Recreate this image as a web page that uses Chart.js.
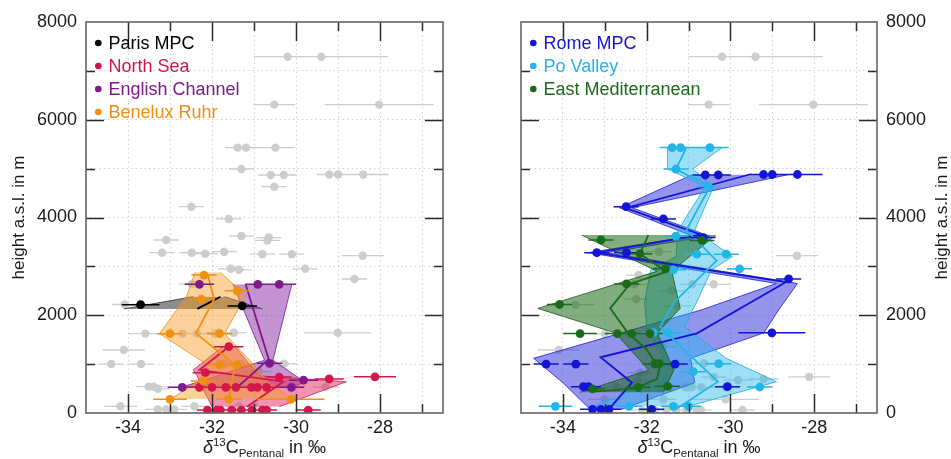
<!DOCTYPE html>
<html><head><meta charset="utf-8">
<script src="https://cdn.jsdelivr.net/npm/chart.js@4.4.1/dist/chart.umd.min.js"></script>
<style>
html,body{margin:0;padding:0;background:#fff;}
#wrap{position:relative;width:951px;height:459px;overflow:hidden;background:#fff;}
#cL{position:absolute;left:0;top:0;width:476px;height:459px;}
#cR{position:absolute;left:476px;top:0;width:475px;height:459px;}
</style></head><body>
<div id="wrap"><canvas id="cL" width="476" height="459"></canvas><canvas id="cR" width="475" height="459"></canvas></div>
<script>
// ---------------- DATA ----------------
const xTickLabels = [-34, -32, -30, -28];
const yTickLabels = [0, 2000, 4000, 6000, 8000];
const leftNames = ['Paris MPC', 'North Sea', 'English Channel', 'Benelux Ruhr'];
const rightNames = ['Rome MPC', 'Po Valley', 'East Mediterranean'];

// points: [delta13C (permil), height (m), error]
const parisPts = [[-33.70, 2216, 0.45], [-31.28, 2190, 0.35]];
const parisMean = [[-32.35, 2130], [-31.80, 2380]];
const parisBand = [[2130, -34.10, -30.80], [2380, -32.45, -31.70]]; // [height, low, high]

const northSeaPts = [
  [-32.11, 60, 0.25], [-31.88, 60, 0.25], [-31.80, 60, 0.25], [-31.53, 60, 0.25], [-31.30, 60, 0.25],
  [-31.05, 60, 0.25], [-30.80, 60, 0.25], [-30.70, 60, 0.25], [-29.71, 60, 0.3],
  [-32.30, 526, 0.3], [-32.00, 526, 0.3], [-31.67, 526, 0.3], [-31.43, 526, 0.3], [-31.06, 526, 0.3],
  [-30.92, 526, 0.3], [-30.70, 526, 0.3],
  [-30.40, 735, 0.3], [-29.21, 696, 0.35], [-28.12, 740, 0.5], [-32.16, 825, 0.3], [-31.60, 1357, 0.35]
];
const northSeaMean = [[-31.17, 130], [-30.30, 640], [-32.30, 880], [-31.60, 1357]];
const northSeaBand = [[130, -32.00, -30.40], [640, -32.30, -28.80], [760, -32.35, -30.85], [880, -32.45, -31.00], [1357, -31.75, -31.45]];

const channelPts = [[-32.30, 2633, 0.35], [-30.91, 2633, 0.3], [-30.40, 2633, 0.4], [-30.63, 1017, 0.3],
  [-29.82, 672, 0.35], [-32.71, 526, 0.35], [-30.11, 526, 0.3]];
const channelMean = [[-31.40, 526], [-31.25, 640], [-30.65, 1100], [-31.20, 2633]];
const channelBand = [[526, -32.75, -30.05], [640, -32.30, -29.80], [1080, -30.75, -30.55], [2633, -31.50, -30.10]];

const beneluxPts = [[-32.19, 2823, 0.3], [-31.40, 2500, 0.3], [-32.25, 2330, 0.3], [-33.00, 1623, 0.3],
  [-31.82, 1623, 0.3], [-31.82, 982, 0.3], [-31.41, 982, 0.3], [-32.21, 655, 0.3], [-33.00, 280, 0.4],
  [-31.60, 280, 0.3], [-30.12, 280, 0.8]];
const beneluxMean = [[-31.62, 200], [-31.45, 982], [-32.38, 1630], [-31.95, 2330], [-32.10, 2823]];
const beneluxBand = [[280, -33.00, -30.10], [655, -32.30, -30.70], [982, -32.10, -31.00], [1623, -33.25, -31.70], [2400, -32.60, -31.20], [2880, -32.40, -31.80]];

const romePts = [[-30.60, 4870, 0.3], [-30.29, 4870, 0.3], [-29.21, 4880, 0.3], [-29.00, 4880, 0.3],
  [-28.40, 4880, 0.6], [-32.49, 4221, 0.3], [-31.60, 3970, 0.3], [-30.65, 3590, 0.3], [-33.19, 3280, 0.3],
  [-32.48, 3280, 0.3], [-28.61, 2742, 0.3], [-29.01, 1640, 0.8], [-34.40, 1002, 0.3], [-33.69, 1002, 0.3],
  [-31.32, 1002, 0.3], [-33.51, 539, 0.3], [-33.39, 539, 0.3], [-30.07, 539, 0.3], [-33.29, 75, 0.3],
  [-33.09, 75, 0.3], [-32.90, 75, 0.3], [-31.88, 75, 0.3]];
const romeMean = [[-32.95, 30], [-32.35, 620], [-33.10, 1140], [-30.80, 1630], [-28.67, 2680], [-33.20, 3280],
  [-30.70, 3650], [-32.50, 4190], [-29.50, 4890]];
const romeBand = [[75, -33.35, -32.60], [620, -34.00, -30.85], [1119, -34.70, -30.95], [1640, -32.60, -29.20],
  [2107, -30.70, -28.85], [2650, -28.90, -28.40], [3280, -33.40, -32.95], [3620, -30.90, -30.50],
  [4200, -32.65, -32.35], [4880, -30.90, -28.60]];

const poPts = [[-31.39, 5430, 0.3], [-31.19, 5430, 0.3], [-30.49, 5430, 0.45], [-31.30, 4992, 0.3],
  [-30.52, 4630, 0.3], [-31.30, 3620, 0.3], [-30.80, 3250, 0.3], [-30.10, 3250, 0.3], [-31.36, 2930, 0.3],
  [-29.78, 2950, 0.3], [-31.84, 1643, 0.3], [-31.48, 1643, 0.3], [-30.28, 1010, 0.3], [-30.89, 845, 0.3],
  [-29.30, 532, 0.3], [-34.18, 137, 0.4], [-32.42, 137, 0.3], [-31.36, 137, 0.3], [-31.00, 137, 0.3]];
const poMean = [[-31.33, 61], [-30.30, 640], [-30.89, 1119], [-31.68, 1766], [-31.33, 2277], [-30.33, 3116],
  [-31.05, 3744], [-30.49, 4630], [-31.30, 4990], [-31.05, 5430]];
const poBand = [[137, -33.30, -31.00], [640, -31.80, -28.90], [1119, -31.60, -30.10], [1766, -32.00, -31.10],
  [2277, -32.05, -30.80], [2930, -31.90, -30.45], [3200, -31.30, -29.95], [3744, -31.25, -30.85],
  [4630, -30.60, -30.40], [4992, -31.50, -30.90], [5430, -31.50, -30.20]];

const eastMedPts = [[-33.09, 3540, 0.3], [-30.68, 3530, 0.3], [-32.16, 3260, 0.3], [-31.55, 2950, 0.3],
  [-32.48, 2640, 0.3], [-34.08, 2220, 0.3], [-33.59, 1625, 0.4], [-32.70, 1625, 0.3], [-32.36, 1625, 0.3],
  [-31.92, 1625, 0.3], [-31.80, 1010, 0.3], [-31.70, 1010, 0.3], [-33.29, 495, 0.3], [-32.20, 526, 0.3],
  [-31.50, 545, 0.3]];
const eastMedMean = [[-33.30, 436], [-32.30, 500], [-31.75, 700], [-31.70, 900], [-32.00, 1300], [-32.45, 1640],
  [-32.87, 2142], [-32.40, 2640], [-31.52, 2891], [-32.16, 3253], [-31.96, 3642]];
const eastMedBand = [[420, -33.60, -31.60], [880, -31.95, -31.35], [1640, -32.75, -31.75], [2140, -34.60, -31.20],
  [2900, -31.75, -31.40], [3640, -33.55, -30.35]];

// samples not assigned to any source region (grey in both panels)
const otherPts = [[-30.20, 7290, 0.8], [-29.40, 7290, 1.6], [-30.52, 6310, 0.5], [-28.02, 6310, 1.3],
  [-28.41, 3218, 0.5], [-34.10, 1289, 0.5], [-31.71, 3300, 0.3]];

// ---------------- STYLE ----------------
const FF = "'Liberation Sans', Arial, sans-serif";
Chart.defaults.font.family = FF;
Chart.defaults.color = '#1a1a1a';
const GREY = '#cdcdcd';
const ST = {
  paris:   {c: '#000000', f: 'rgba(50,50,50,0.55)',   e: 'rgba(40,40,40,0.8)'},
  ns:      {c: '#d5164a', f: 'rgba(225,40,95,0.5)',   e: 'rgba(210,30,80,0.8)'},
  ec:      {c: '#7e1a8a', f: 'rgba(135,40,165,0.5)',  e: 'rgba(120,30,140,0.8)'},
  ben:     {c: '#ef900f', f: 'rgba(247,155,35,0.45)', e: 'rgba(240,145,20,0.8)'},
  rome:    {c: '#1414d4', f: 'rgba(60,60,222,0.55)',  e: 'rgba(30,30,200,0.8)'},
  po:      {c: '#22b5e8', f: 'rgba(40,185,235,0.45)', e: 'rgba(30,170,225,0.8)'},
  em:      {c: '#1b6a1b', f: 'rgba(25,105,25,0.55)',  e: 'rgba(20,90,20,0.8)'}
};

// ---------------- BUILDERS ----------------
const xy = p => ({x: p[0], y: p[1]});
function errData(pts) {
  const out = [];
  pts.forEach(p => { out.push({x: p[0] - p[2], y: p[1]}, {x: p[0] + p[2], y: p[1]}, {x: null, y: null}); });
  return out;
}
function greyDatasets(groups) {
  const all = [].concat(...groups);
  return [
    {data: errData(all), borderColor: GREY, borderWidth: 1.3, pointRadius: 0, spanGaps: false, fill: false, order: 100},
    {data: all.map(xy), showLine: false, pointRadius: 4.2, pointBackgroundColor: GREY, pointBorderWidth: 0, order: 99}
  ];
}
function bandDatasets(band, st) {
  return [
    {indexAxis: 'y', data: band.map(b => ({x: b[1], y: b[0]})), borderColor: st.e, borderWidth: 1, pointRadius: 0, fill: false, order: 50},
    {indexAxis: 'y', data: band.map(b => ({x: b[2], y: b[0]})), borderColor: st.e, borderWidth: 1, pointRadius: 0, fill: '-1', backgroundColor: st.f, order: 50}
  ];
}
function seriesDatasets(pts, mean, st) {
  return [
    {data: mean.map(xy), borderColor: st.c, borderWidth: 1.8, pointRadius: 0, fill: false, order: 20},
    {data: errData(pts), borderColor: st.c, borderWidth: 1.5, pointRadius: 0, spanGaps: false, fill: false, order: 15},
    {data: pts.map(xy), showLine: false, pointRadius: 4.4, pointBackgroundColor: st.c, pointBorderWidth: 0, order: 10}
  ];
}

// ---------------- PLUGINS ----------------
const framePlugin = {
  id: 'frame',
  afterDatasetsDraw(chart) {
    const {ctx, chartArea: a, scales: {x, y}} = chart;
    ctx.save();
    ctx.strokeStyle = '#2a2a2a';
    ctx.lineWidth = 1.5;
    ctx.beginPath();
    x.ticks.forEach(t => {
      if (t.value <= x.min || t.value >= x.max) return;
      const px = Math.round(x.getPixelForValue(t.value)) + 0.5;
      const L = xTickLabels.includes(t.value) ? 19 : 9;
      ctx.moveTo(px, a.bottom); ctx.lineTo(px, a.bottom - L);
      ctx.moveTo(px, a.top); ctx.lineTo(px, a.top + L);
    });
    y.ticks.forEach(t => {
      if (t.value <= y.min || t.value >= y.max) return;
      const py = Math.round(y.getPixelForValue(t.value)) + 0.5;
      const L = yTickLabels.includes(t.value) ? 18 : 9;
      ctx.moveTo(a.left, py); ctx.lineTo(a.left + L, py);
      ctx.moveTo(a.right, py); ctx.lineTo(a.right - L, py);
    });
    ctx.stroke();
    ctx.strokeStyle = '#666';
    ctx.lineWidth = 1.6;
    ctx.strokeRect(a.left, a.top, a.right - a.left, a.bottom - a.top);
    ctx.restore();
  },
  afterDraw(chart, args, opts) {
    const {ctx, chartArea: a} = chart;
    ctx.save();
    // legend
    ctx.textBaseline = 'middle';
    ctx.textAlign = 'left';
    ctx.font = '18px ' + FF;
    opts.legend.forEach((it, i) => {
      const yy = a.top + 21 + i * 23;
      ctx.fillStyle = it.c;
      ctx.beginPath(); ctx.arc(a.left + 12.3, yy, 3.3, 0, Math.PI * 2); ctx.fill();
      ctx.fillText(it.t, a.left + 22.5, yy + 1);
    });
    // x axis title with super/subscript
    const parts = [
      {t: 'δ', f: 'italic 18px ' + FF, dy: 0},
      {t: '13', f: '11.5px ' + FF, dy: -7},
      {t: 'C', f: '18px ' + FF, dy: 0},
      {t: 'Pentanal', f: '11.5px ' + FF, dy: 4},
      {t: ' in ‰', f: '18px ' + FF, dy: 0}
    ];
    let w = 0;
    parts.forEach(p => { ctx.font = p.f; p.w = ctx.measureText(p.t).width; w += p.w; });
    let xx = (a.left + a.right) / 2 - w / 2;
    ctx.textBaseline = 'alphabetic';
    ctx.fillStyle = '#1a1a1a';
    parts.forEach(p => { ctx.font = p.f; ctx.fillText(p.t, xx, 453 + p.dy); xx += p.w; });
    // right-hand y title (reads bottom-to-top)
    if (opts.rightTitle) {
      ctx.translate(opts.rightTitle, (a.top + a.bottom) / 2);
      ctx.rotate(-Math.PI / 2);
      ctx.font = '17px ' + FF;
      ctx.textAlign = 'center';
      ctx.textBaseline = 'middle';
      ctx.fillText('height a.s.l. in m', 0, 0);
    }
    ctx.restore();
  }
};

function scales(side) {
  const gridCfg = {color: '#d0d0d0', lineWidth: 1, drawTicks: false};
  const borderCfg = {display: false, dash: [1.5, 3]};
  return {
    x: {
      type: 'linear', min: -35, max: -26.5, position: 'bottom',
      afterFit: s => { s.height = 46; },
      ticks: {stepSize: 1, includeBounds: false, autoSkip: false, maxRotation: 0, padding: 4,
        font: {size: 18}, color: '#1a1a1a',
        callback: v => xTickLabels.includes(v) ? String(v) : ''},
      grid: gridCfg, border: borderCfg
    },
    y: {
      type: 'linear', min: 0, max: 8000, position: side,
      afterFit: s => { s.width = side === 'left' ? 86 : 74; },
      ticks: {stepSize: 1000, includeBounds: false, autoSkip: false, padding: 9,
        font: {size: 18}, color: '#1a1a1a',
        callback: v => yTickLabels.includes(v) ? String(v) : ''},
      grid: gridCfg, border: borderCfg,
      title: {display: side === 'left', text: 'height a.s.l. in m', font: {size: 17}, color: '#1a1a1a', padding: {top: 9, bottom: 0}}
    }
  };
}

function makeChart(id, datasets, side, padding, pluginOpts) {
  return new Chart(document.getElementById(id), {
    type: 'line',
    data: {datasets},
    options: {
      responsive: false, animation: false, devicePixelRatio: 1, events: [],
      layout: {padding},
      scales: scales(side),
      plugins: {legend: {display: false}, tooltip: {enabled: false}, frame: pluginOpts}
    },
    plugins: [framePlugin]
  });
}

// ---------------- LEFT PANEL ----------------
const leftSets = [].concat(
  greyDatasets([romePts, poPts, eastMedPts, otherPts]),
  bandDatasets(beneluxBand, ST.ben),
  bandDatasets(northSeaBand, ST.ns),
  bandDatasets(channelBand, ST.ec),
  bandDatasets(parisBand, ST.paris),
  seriesDatasets(beneluxPts, beneluxMean, ST.ben),
  seriesDatasets(northSeaPts, northSeaMean, ST.ns),
  seriesDatasets(channelPts, channelMean, ST.ec),
  seriesDatasets(parisPts, parisMean, ST.paris)
);
makeChart('cL', leftSets, 'left', {left: 0, right: 33, top: 22, bottom: 0}, {
  legend: [{t: leftNames[0], c: ST.paris.c}, {t: leftNames[1], c: ST.ns.c}, {t: leftNames[2], c: ST.ec.c}, {t: leftNames[3], c: ST.ben.c}],
  rightTitle: 0
});

// ---------------- RIGHT PANEL ----------------
const rightSets = [].concat(
  greyDatasets([parisPts, northSeaPts, channelPts, beneluxPts, otherPts]),
  bandDatasets(eastMedBand, ST.em),
  bandDatasets(poBand, ST.po),
  bandDatasets(romeBand, ST.rome),
  seriesDatasets(eastMedPts, eastMedMean, ST.em),
  seriesDatasets(poPts, poMean, ST.po),
  seriesDatasets(romePts, romeMean, ST.rome)
);
makeChart('cR', rightSets, 'right', {left: 45, right: 0, top: 22, bottom: 0}, {
  legend: [{t: rightNames[0], c: ST.rome.c}, {t: rightNames[1], c: ST.po.c}, {t: rightNames[2], c: ST.em.c}],
  rightTitle: 466.5
});
</script>
</body></html>
